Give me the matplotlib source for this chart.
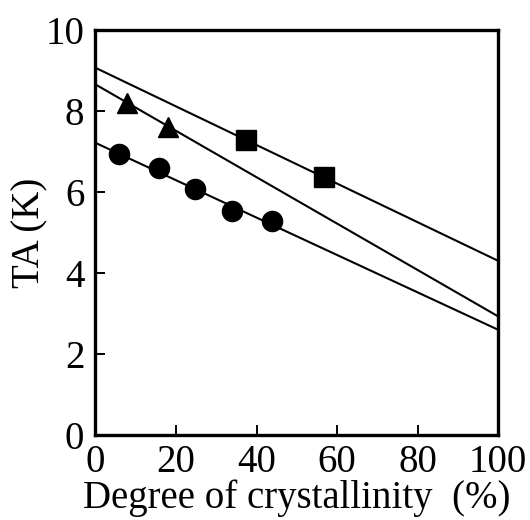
import matplotlib

matplotlib.use("Agg")
import matplotlib.pyplot as plt

CIRCLE_X = [5.8, 15.9, 24.8, 33.9, 43.8]
CIRCLE_Y = [6.93, 6.60, 6.06, 5.53, 5.29]
TRI_X = [7.9, 17.9]
TRI_Y = [8.18, 7.61]
SQ_X = [37.3, 56.8]
SQ_Y = [7.29, 6.37]

# fitted lines (end points at 0 % and 100 %)
LINE_X = [0, 100]
LINE_TOP = [9.06, 4.30]
LINE_MID = [8.65, 2.93]
LINE_LOW = [7.21, 2.60]

XTICKS = [0, 20, 40, 60, 80, 100]
YTICKS = [0, 2, 4, 6, 8, 10]

plt.rcParams.update({
    "font.family": "serif",
    "font.serif": ["Liberation Serif", "DejaVu Serif"],
})

fig = plt.figure(figsize=(5.3, 5.2), dpi=100)
ax = fig.add_axes([0.180, 0.163, 0.760, 0.780])

for ys in (LINE_TOP, LINE_MID, LINE_LOW):
    ax.plot(LINE_X, ys, color="black", lw=1.5)

ax.plot(CIRCLE_X, CIRCLE_Y, "o", color="black", ms=14.5, ls="none")
ax.plot(TRI_X, TRI_Y, "^", color="black", ms=15, ls="none")
ax.plot(SQ_X, SQ_Y, "s", color="black", ms=14, ls="none")

ax.set_xlim(0, 100)
ax.set_ylim(0, 10)
ax.set_xticks(XTICKS)
ax.set_yticks(YTICKS)
ax.tick_params(direction="in", length=7, width=1.4, labelsize=28)
ax.tick_params(axis="x", pad=6)
ax.tick_params(axis="y", pad=8)
for s in ax.spines.values():
    s.set_linewidth(2.4)

ax.set_xlabel("Degree of crystallinity  (%)", fontsize=28, labelpad=-1)
ax.set_ylabel("TA (K)", fontsize=28, labelpad=-2)

fig.savefig("out.png", dpi=100)
